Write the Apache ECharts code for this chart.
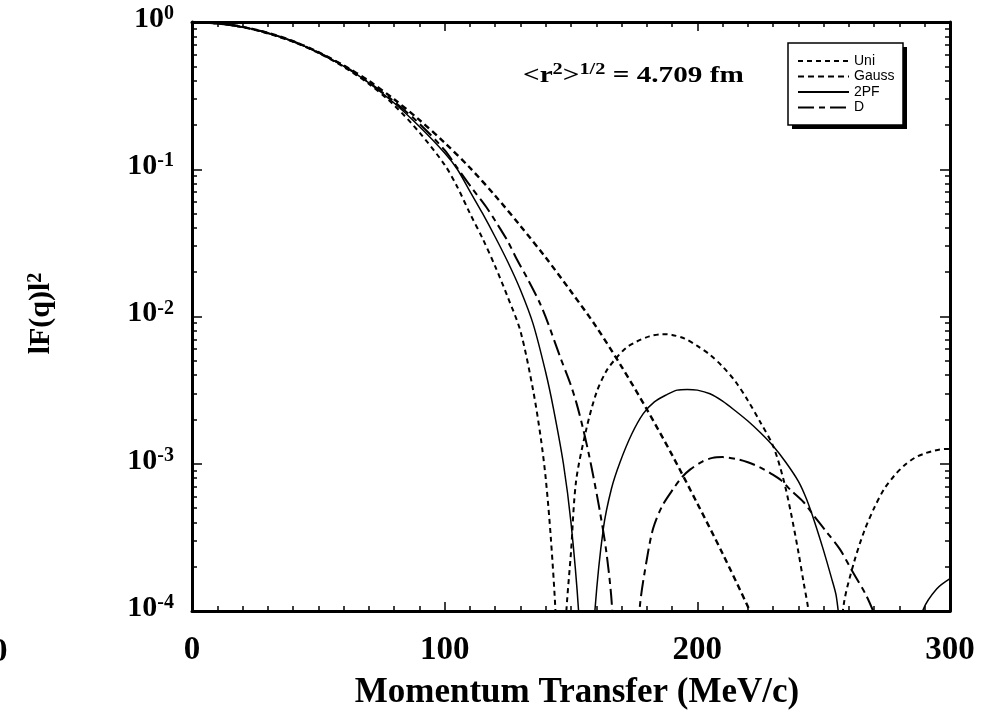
<!DOCTYPE html>
<html>
<head>
<meta charset="utf-8">
<title>Form factor</title>
<script src="https://cdn.jsdelivr.net/npm/echarts@6/dist/echarts.min.js"></script>
<style>
    html, body { margin: 0; padding: 0; background: #fff; }
    #main { width: 1002px; height: 715px; }
</style>
</head>
<body>
<div id="main"></div>
<script>
// momentum transfer q (MeV/c) and log10 |F(q)|^2
var uniQ   = [0, 10, 20, 30, 40, 50, 60, 70, 80, 90, 100, 105, 110, 115, 120, 125, 130, 135, 138, 140, 142, 144, 146, 148, 150, 152, 156, 160, 164, 168, 172, 176, 181, 186, 190, 195, 200, 205, 210, 215, 220, 225, 230, 234, 237, 240, 242, 244, 247, 251, 254, 258, 262, 266, 270, 274, 278, 282, 286, 290, 294, 298, 300];
var uniLog = [0, -0.01, -0.035, -0.078, -0.135, -0.21, -0.305, -0.42, -0.565, -0.75, -0.97, -1.12, -1.3, -1.47, -1.66, -1.87, -2.1, -2.5, -2.82, -3.1, -3.5, -4.05, -5, -4.05, -3.6, -3.12, -2.77, -2.52, -2.37, -2.28, -2.21, -2.17, -2.135, -2.12, -2.125, -2.15, -2.2, -2.26, -2.34, -2.44, -2.57, -2.72, -2.88, -3.1, -3.33, -3.6, -3.8, -4.0, -4.5, -5.5, -4.6, -3.95, -3.67, -3.46, -3.3, -3.17, -3.08, -3.01, -2.96, -2.93, -2.91, -2.9, -2.9];

var gaussQ   = [0, 10, 20, 30, 40, 50, 60, 70, 80, 90, 100, 110, 120, 130, 140, 150, 160, 170, 180, 190, 200, 210, 220, 230];
var gaussLog = [0, -0.008, -0.033, -0.074, -0.13, -0.205, -0.295, -0.4, -0.525, -0.665, -0.82, -0.99, -1.18, -1.385, -1.6, -1.83, -2.07, -2.34, -2.63, -2.94, -3.27, -3.61, -3.97, -4.35];

var pfQ   = [0, 10, 20, 30, 40, 50, 60, 70, 80, 90, 100, 105, 110, 115, 120, 125, 130, 135, 140, 143, 147, 150, 153, 156, 159.5, 162.8, 166, 169.4, 174, 178.6, 183, 188, 192, 196, 200, 205, 210, 215, 220, 225, 230, 235, 240, 243.2, 246.5, 249.8, 253, 255, 257, 262, 275, 285, 287, 289.4, 294.7, 300];
var pfLog = [0, -0.01, -0.034, -0.076, -0.132, -0.207, -0.3, -0.413, -0.55, -0.71, -0.89, -1.0, -1.15, -1.3, -1.46, -1.63, -1.82, -2.05, -2.38, -2.62, -3.0, -3.4, -4.0, -5, -3.99, -3.44, -3.17, -2.99, -2.8, -2.66, -2.58, -2.53, -2.5, -2.495, -2.5, -2.525, -2.575, -2.64, -2.71, -2.79, -2.88, -2.99, -3.12, -3.24, -3.4, -3.58, -3.77, -3.9, -4.2, -5, -6, -4.6, -4.2, -3.99, -3.85, -3.78];

var dQ   = [0, 10, 20, 30, 40, 50, 60, 70, 80, 90, 100, 105, 110, 116.6, 120, 125, 128.5, 133, 137.7, 141, 145.6, 149.6, 152.2, 154.9, 157, 159, 161.5, 164, 166.1, 168, 171, 174, 177.3, 180, 182.5, 186, 190.5, 194, 197.1, 202, 206, 210, 216, 220, 225, 229, 233, 237, 242, 246, 251, 256.4, 261, 267, 272];
var dLog = [0, -0.01, -0.034, -0.075, -0.131, -0.206, -0.297, -0.41, -0.54, -0.69, -0.87, -0.99, -1.11, -1.26, -1.35, -1.49, -1.61, -1.75, -1.91, -2.05, -2.27, -2.45, -2.59, -2.77, -2.93, -3.1, -3.33, -3.6, -3.94, -4.6, -5.5, -4.7, -3.96, -3.65, -3.44, -3.29, -3.17, -3.09, -3.04, -2.985, -2.96, -2.955, -2.97, -2.99, -3.026, -3.065, -3.11, -3.18, -3.26, -3.35, -3.46, -3.58, -3.72, -3.9, -4.1];

var seriesNames = ['Uni', 'Gauss', '2PF', 'D'];
var xTickLabels = [0, 100, 200, 300];
var yDecades = [1e-4, 1e-3, 1e-2, 1e-1, 1];

function pairs(qs, logs) {
    return qs.map(function (q, i) { return [q, Math.pow(10, logs[i])]; });
}

// minor ticks of the log axis at 2..9 of each decade
var yMinor = [];
for (var d = 0; d < yDecades.length - 1; d++) {
    for (var k = 2; k <= 9; k++) yMinor.push(yDecades[d] * k);
}

var serif = 'Liberation Serif';
var black = '#000';

var myChart = echarts.init(document.getElementById('main'));

function yAxisDef(pos, ticks, len, labels) {
    return {
        type: 'log',
        logBase: 10,
        position: pos,
        min: 1e-4,
        max: 1,
        axisLine: { show: labels !== null, lineStyle: { color: black, width: 3 } },
        axisTick: { show: true, inside: true, length: len, customValues: ticks, lineStyle: { color: black, width: 1.5 } },
        axisLabel: labels || { show: false },
        splitLine: { show: false },
        minorTick: { show: false }
    };
}

var supRich = {
    b: { fontFamily: serif, fontWeight: 'bold', fontSize: 30, color: black, lineHeight: 30 },
    s: { fontFamily: serif, fontWeight: 'bold', fontSize: 20, color: black, verticalAlign: 'top', lineHeight: 20 }
};

var yLabels = {
    show: true,
    margin: 18,
    padding: [0, 0, 6, 0],
    customValues: yDecades,
    formatter: function (v) {
        var e = Math.round(Math.log(v) / Math.LN10);
        return '{b|10}{s|' + e + '}';
    },
    rich: supRich
};

var leftMajor = yAxisDef('left', yDecades, 10, yLabels);
leftMajor.name = '{b|lF(q)l}{s|2}';
leftMajor.nameLocation = 'middle';
leftMajor.nameGap = 136;
leftMajor.nameRotate = 90;
leftMajor.nameTextStyle = { padding: [0, 0, 0, 6], rich: supRich };

function xAxisDef(pos, showLabels) {
    return {
        type: 'value',
        position: pos,
        min: 0,
        max: 300,
        interval: 100,
        axisLine: { show: true, onZero: false, lineStyle: { color: black, width: 3 } },
        axisTick: { show: true, inside: true, length: 9, lineStyle: { color: black, width: 1.5 } },
        minorTick: { show: true, splitNumber: 10, length: 5, lineStyle: { color: black, width: 1.5 } },
        axisLabel: showLabels ? {
            show: true, margin: 23, color: black,
            fontFamily: serif, fontWeight: 'bold', fontSize: 33,
            customValues: xTickLabels
        } : { show: false },
        splitLine: { show: false }
    };
}

var bottomX = xAxisDef('bottom', true);
bottomX.name = 'Momentum Transfer (MeV/c)';
bottomX.nameLocation = 'middle';
bottomX.nameGap = 64;
bottomX.nameTextStyle = { fontFamily: serif, fontWeight: 'bold', fontSize: 35, color: black, padding: [0, 0, 0, 12] };

function lineSeries(name, qs, logs, width, dash) {
    return {
        name: name,
        type: 'line',
        data: pairs(qs, logs),
        symbol: 'none',
        smooth: 0.3,
        clip: true,
        xAxisIndex: 0,
        yAxisIndex: 0,
        lineStyle: { color: black, width: width, type: dash }
    };
}

option = {
    backgroundColor: '#fff',
    animation: false,
    grid: { left: 192, right: 52, top: 22, bottom: 103 },
    xAxis: [bottomX, xAxisDef('top', false)],
    yAxis: [
        leftMajor,
        yAxisDef('left', yMinor, 5, null),
        yAxisDef('right', yDecades, 10, { show: false }),
        yAxisDef('right', yMinor, 5, null)
    ],
    legend: {
        data: seriesNames,
        orient: 'vertical',
        left: 789,
        top: 44,
        itemWidth: 51,
        itemHeight: 12,
        itemGap: 1.5,
        padding: [10, 10, 18, 8],
        itemStyle: { color: 'rgba(0,0,0,0)', borderColor: 'rgba(0,0,0,0)', borderWidth: 0 },
        textStyle: { fontFamily: 'Liberation Sans', fontSize: 14, color: black }
    },
    series: [
        lineSeries('Uni', uniQ, uniLog, 2, [5, 4]),
        lineSeries('Gauss', gaussQ, gaussLog, 2.4, [6, 4]),
        lineSeries('2PF', pfQ, pfLog, 1.5, 'solid'),
        lineSeries('D', dQ, dLog, 2, [16, 5, 6, 5])
    ],
    graphic: [
        {
            type: 'rect',
            shape: { x: 792, y: 47, width: 115, height: 82 },
            style: { fill: black },
            z: 1
        },
        {
            type: 'rect',
            shape: { x: 788, y: 43, width: 115, height: 82 },
            style: { fill: '#fff', stroke: black, lineWidth: 1.5 },
            z: 2
        },
        {
            type: 'text',
            x: 523,
            y: 62,
            scaleX: 1.27,
            style: {
                text: '{b|<r}{s|2}{b|>}{s|1/2}{b| = 4.709 fm}',
                rich: {
                    b: { fontFamily: serif, fontWeight: 'bold', fontSize: 23, fill: black, lineHeight: 28 },
                    s: { fontFamily: serif, fontWeight: 'bold', fontSize: 16, fill: black, verticalAlign: 'top', lineHeight: 16 }
                }
            }
        },
        {
            type: 'text',
            x: -9,
            y: 636,
            style: { text: '0', fontFamily: serif, fontWeight: 'bold', fontSize: 33, fill: black }
        }
    ]
};

myChart.setOption(option);
</script>
</body>
</html>
